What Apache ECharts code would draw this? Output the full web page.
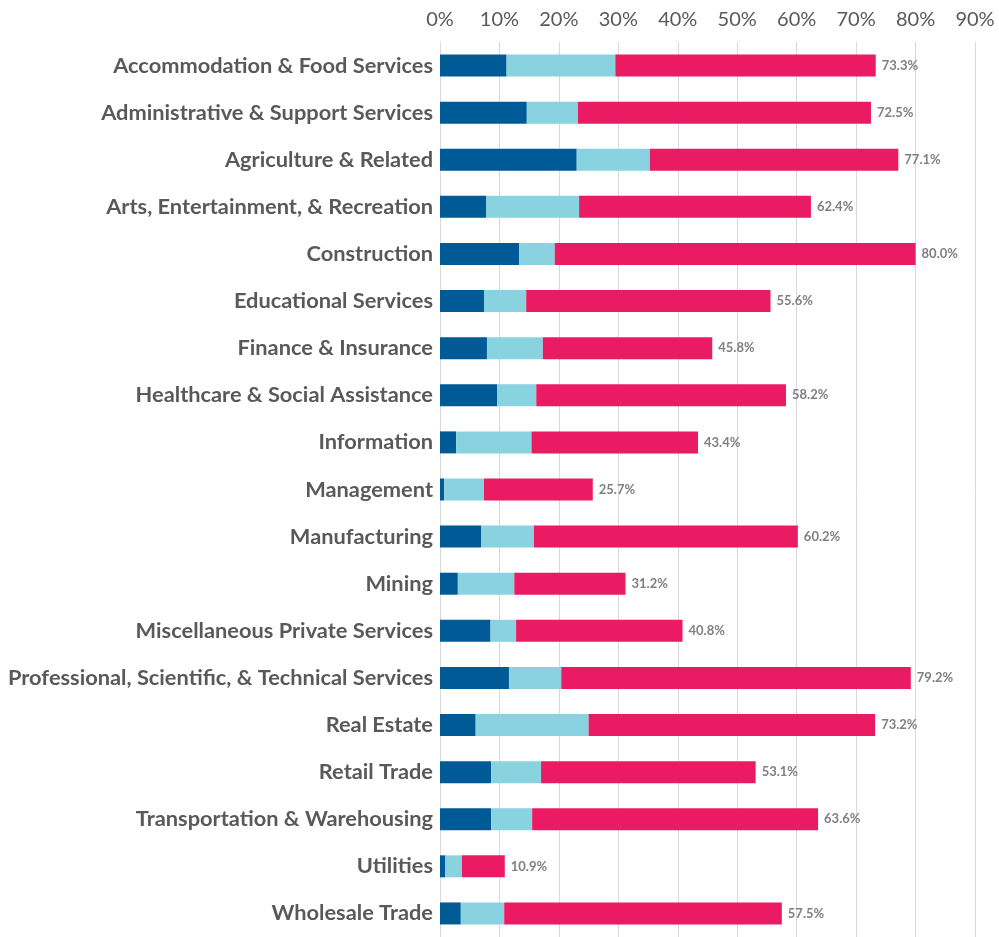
<!DOCTYPE html>
<html>
<head>
<meta charset="utf-8">
<script src="https://cdn.jsdelivr.net/npm/echarts@6/dist/echarts.min.js"></script>
<style>
  html, body { margin: 0; padding: 0; background: #fff; }
  #chart { width: 999px; height: 937px; }
</style>
</head>
<body>
<div id="chart"></div>
<script>
const categories = [
  'Accommodation & Food Services',
  'Administrative & Support Services',
  'Agriculture & Related',
  'Arts, Entertainment, & Recreation',
  'Construction',
  'Educational Services',
  'Finance & Insurance',
  'Healthcare & Social Assistance',
  'Information',
  'Management',
  'Manufacturing',
  'Mining',
  'Miscellaneous Private Services',
  'Professional, Scientific, & Technical Services',
  'Real Estate',
  'Retail Trade',
  'Transportation & Warehousing',
  'Utilities',
  'Wholesale Trade'
];
const darkValues  = [11.2, 14.6, 23.0, 7.8, 13.3, 7.4, 7.9, 9.6, 2.7, 0.7, 6.9, 3.0, 8.5, 11.6, 6.0, 8.6, 8.6, 0.9, 3.5];
const lightValues = [18.3, 8.6, 12.3, 15.6, 6.0, 7.1, 9.4, 6.6, 12.7, 6.7, 8.9, 9.5, 4.3, 8.8, 19.0, 8.4, 6.9, 2.8, 7.3];
const pinkValues  = [43.8, 49.3, 41.8, 39.0, 60.7, 41.1, 28.5, 42.0, 28.0, 18.3, 44.4, 18.7, 28.0, 58.8, 48.2, 36.1, 48.1, 7.2, 46.7];
const totals      = [73.3, 72.5, 77.1, 62.4, 80.0, 55.6, 45.8, 58.2, 43.4, 25.7, 60.2, 31.2, 40.8, 79.2, 73.2, 53.1, 63.6, 10.9, 57.5];

const font = 'Lato, "Open Sans", sans-serif';

var myChart = echarts.init(document.getElementById('chart'));

function barSeries(name, data, color) {
  return {
    name: name,
    type: 'bar',
    stack: 'total',
    barWidth: 22,
    data: data,
    itemStyle: { color: color },
    emphasis: { disabled: true }
  };
}

const pink = barSeries('pink', pinkValues, '#ea1b63');
pink.label = {
  show: true,
  position: 'right',
  distance: 6,
  fontFamily: font,
  fontSize: 13,
  fontWeight: 'bold',
  color: '#808080',
  formatter: function (p) { return totals[p.dataIndex].toFixed(1) + '%'; }
};

myChart.setOption({
  animation: false,
  grid: { left: 440, right: 24, top: 42, bottom: -2, containLabel: false },
  xAxis: {
    type: 'value',
    position: 'top',
    min: 0,
    max: 90,
    interval: 10,
    axisLine: { show: false },
    axisTick: { show: false },
    axisLabel: {
      formatter: '{value}%',
      fontFamily: font,
      fontSize: 20,
      color: '#595959',
      margin: 12
    },
    splitLine: { lineStyle: { color: '#d9d9d9', width: 1 } }
  },
  yAxis: {
    type: 'category',
    inverse: true,
    data: categories,
    axisLine: { show: true, lineStyle: { color: '#d9d9d9' } },
    axisTick: { show: false },
    axisLabel: {
      fontFamily: font,
      fontSize: 21.8,
      fontWeight: 'bold',
      color: '#595959',
      margin: 7
    }
  },
  series: [
    barSeries('dark', darkValues, '#005a96'),
    barSeries('light', lightValues, '#89d3e1'),
    pink
  ]
});
</script>
</body>
</html>
